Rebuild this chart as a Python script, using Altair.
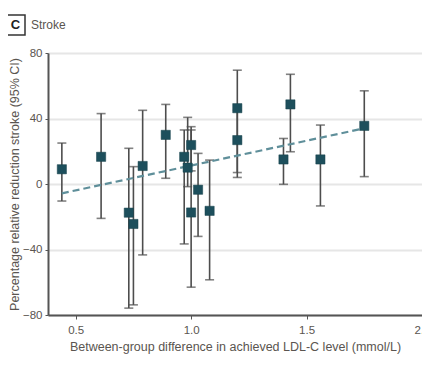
import altair as alt
import pandas as pd

# Study-level data
ldl_diff = [0.44, 0.61, 0.73, 0.75, 0.79, 0.89, 0.97, 0.985, 1.0, 1.0, 1.03, 1.08, 1.2, 1.2, 1.4, 1.43, 1.56, 1.75]
rrr = [9, 16.6, -17.5, -24.4, 11, 30, 16.6, 10, 23.8, -17.4, -3.5, -16.4, 46.3, 26.8, 15, 48.6, 15, 35.5]
ci_low = [-10.4, -21, -75.8, -73.8, -43.3, 3.5, -36.6, -1.6, 8, -63, -32, -58.5, 7, 4, -0.2, 19.7, -13.4, 4.5]
ci_high = [25, 43, 21.8, 10.6, 45, 48.6, 33, 40.7, 35, 33, 18.7, 14.6, 69.5, 45, 27.8, 67, 36, 56.9]

# Meta-regression line endpoints
trend_x = [0.44, 1.75]
trend_y = [-5.7, 34]

x_ticks = [0.5, 1.0, 1.5, 2.0]
y_ticks = [-80, -40, 0, 40, 80]

FONT = "Liberation Sans, Arial, sans-serif"
TXT = "#5a5550"

df = pd.DataFrame({"x": ldl_diff, "y": rrr, "lo": ci_low, "hi": ci_high})
tdf = pd.DataFrame({"x": trend_x, "y": trend_y})

xs = alt.Scale(domain=[0.38, 2.0], nice=False, zero=False)
ys = alt.Scale(domain=[-80, 80], nice=False)

xax = alt.Axis(values=x_ticks, format=".1f", title="Between-group difference in achieved LDL-C level (mmol/L)",
               grid=False, domainColor="#555", domainWidth=2, tickColor="#555", tickSize=4,
               labelFlush=False,
               labelColor=TXT, labelFont=FONT, labelFontSize=11.5, labelPadding=5,
               titleColor=TXT, titleFont=FONT, titleFontSize=12.5, titleFontWeight="normal", titlePadding=5)
yax = alt.Axis(values=y_ticks, title="Percentage relative reduction stroke (95% CI)",
               grid=True, gridColor="#e6e6e6", gridWidth=2, domainColor="#555", domainWidth=2,
               labelFlush=False,
               tickColor="#555", tickSize=3, labelColor=TXT, labelFont=FONT, labelFontSize=11.5, labelPadding=3,
               titleColor=TXT, titleFont=FONT, titleFontSize=12.5, titleFontWeight="normal", titlePadding=1)

base = alt.Chart(df)

bars = base.mark_rule(color="#4d4d4d", strokeWidth=1.6).encode(
    x=alt.X("x:Q", scale=xs, axis=xax),
    y=alt.Y("lo:Q", scale=ys, axis=yax),
    y2="hi:Q",
)
cap_lo = base.mark_tick(color="#4d4d4d", thickness=1.6, size=9, orient="horizontal").encode(
    x=alt.X("x:Q", scale=xs), y=alt.Y("lo:Q", scale=ys))
cap_hi = base.mark_tick(color="#4d4d4d", thickness=1.6, size=9, orient="horizontal").encode(
    x=alt.X("x:Q", scale=xs), y=alt.Y("hi:Q", scale=ys))

trend = alt.Chart(tdf).mark_line(color="#5f8f9a", strokeWidth=2.2, strokeDash=[7, 4]).encode(
    x=alt.X("x:Q", scale=xs), y=alt.Y("y:Q", scale=ys))

pts = base.mark_square(color="#1d4f5c", opacity=1, size=85, stroke="#16404b", strokeWidth=0.5).encode(
    x=alt.X("x:Q", scale=xs), y=alt.Y("y:Q", scale=ys))

badge_box = alt.Chart(pd.DataFrame({"k": [0]})).mark_rect(fill="white", stroke="#333", strokeWidth=1.5).encode(
    x=alt.value(-42), x2=alt.value(-23), y=alt.value(-38), y2=alt.value(-18))
badge_c = alt.Chart(pd.DataFrame({"t": ["C"]})).mark_text(
    font=FONT, fontSize=13, fontWeight="bold", color="#222", align="center", baseline="middle").encode(
    x=alt.value(-32.5), y=alt.value(-28), text="t:N")
badge_title = alt.Chart(pd.DataFrame({"t": ["Stroke"]})).mark_text(
    font=FONT, fontSize=12, color=TXT, align="left", baseline="middle").encode(
    x=alt.value(-17), y=alt.value(-28), text="t:N")

chart = alt.layer(bars, cap_lo, cap_hi, trend, pts, badge_box, badge_c, badge_title).properties(
    width=374, height=262,
    autosize=alt.AutoSizeParams(type="none"),
    padding={"left": 40, "top": 45, "right": 0, "bottom": 39},
).configure_view(stroke=None).configure(background="white")

chart.save("out.html", embed_options={"renderer": "svg", "actions": False})
